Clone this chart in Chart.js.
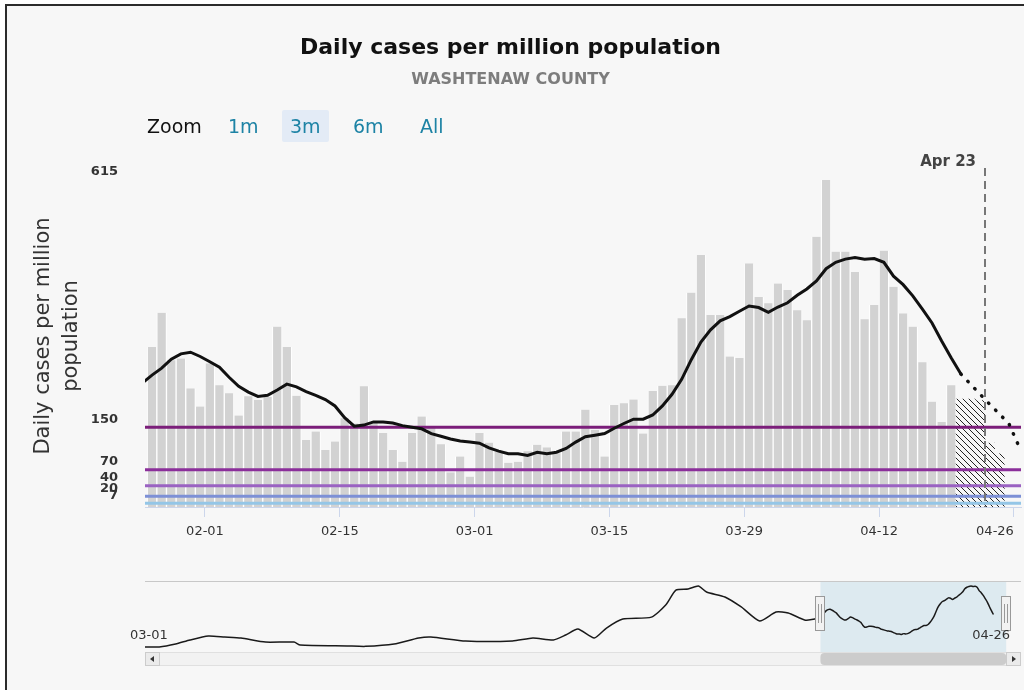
<!DOCTYPE html>
<html>
<head>
<meta charset="utf-8">
<title>Daily cases per million population</title>
<script src="https://cdn.jsdelivr.net/npm/chart.js@4.4.1/dist/chart.umd.min.js"></script>
<style>
  html, body { margin: 0; padding: 0; background: #fff; overflow: hidden; }
  body { width: 1024px; height: 690px; position: relative; font-family: "DejaVu Sans", sans-serif; }
  #frame { position: absolute; left: 5px; top: 4px; width: 1100px; height: 720px; border: 2px solid #2b2b2b; background: #f7f7f7; }
  #mainChart { position: absolute; left: 0; top: 0; }
  #navChart { position: absolute; left: 0; top: 575px; }
  .zoom { position: absolute; top: 110px; height: 32px; line-height: 32px; font-size: 19px; color: #1d83a5; }
  .zoom.label { color: #111; }
  .zoom.active { background: #e3ebf6; padding: 0 8px; border-radius: 2px; }
</style>
</head>
<body>
<div id="frame"></div>
<canvas id="mainChart" width="1046" height="560"></canvas>
<canvas id="navChart" width="1024" height="100"></canvas>
<span class="zoom label" style="left:147px">Zoom</span>
<span class="zoom" style="left:228px">1m</span>
<span class="zoom active" style="left:282px">3m</span>
<span class="zoom" style="left:353px">6m</span>
<span class="zoom" style="left:420px">All</span>

<script>
Chart.defaults.font.family = '"DejaVu Sans", sans-serif';

// days are counted from 02-01; first bar is 01-26, first average point 01-25
const firstDayOffset = -6;
const avgFirstDayOffset = -7;

// daily cases per million, 01-26 .. 04-19
const dailyCases = [
  301, 365, 276, 279, 223, 189, 270, 229, 214, 172, 208, 201, 207, 339,
  301, 209, 126, 142, 107, 123, 167, 157, 227, 160, 139, 107, 85, 139,
  170, 150, 118, 65, 95, 57, 139, 121, 104, 83, 85, 105, 117, 112,
  101, 142, 142, 183, 145, 95, 192, 195, 202, 138, 218, 228, 229, 355,
  403, 474, 361, 361, 283, 280, 458, 395, 383, 420, 408, 370, 351, 508,
  615, 480, 480, 442, 353, 380, 482, 414, 364, 339, 272, 198, 160, 229
];

// incomplete recent days, 04-20 .. 04-24
const incompleteCases = [203, 203, 200, 120, 100];

// 7-day average, 01-25 .. 04-20
const sevenDayAvg = [
  233,
  248, 261, 278, 288, 291, 283, 273, 263, 244, 227, 216, 208, 210, 220,
  231, 226, 217, 210, 202, 190, 168, 152, 154, 160, 160, 158, 153, 150,
  147, 138, 133, 128, 124, 122, 120, 111, 105, 100, 100, 97, 103, 100,
  103, 110, 122, 132, 135, 138, 148, 157, 165, 165, 173, 190, 212, 240,
  277, 310, 333, 350, 358, 368, 378, 375, 366, 376, 384, 398, 410, 425,
  448, 460, 466, 469, 466, 467, 460, 434, 418, 397, 372, 346, 312, 280,
  250
];

// projected average, 04-20 .. 04-26
const projectedAvg = [250, 231, 212, 193, 175, 156, 115];

const thresholds = [150, 70, 40, 20, 7];
const thresholdColors = ['#7b1e7a', '#8b2f9a', '#9a62c2', '#7d90d6', '#94c6e7'];

const yTicks = [7, 20, 40, 70, 150, 615];
const xTickDays = [0, 14, 28, 42, 56, 70, 84];
const xTickLabels = ['02-01', '02-15', '03-01', '03-15', '03-29', '04-12', '04-26'];

const eventDay = 81;
const eventLabel = 'Apr 23';

// navigator: 7-day average since 03-01-2020 (day numbers), before the zoomed window
const navDays = [0, 7, 15, 22, 31, 39, 47, 59, 73, 76, 99, 108, 122, 134, 140, 157, 180, 190, 200,
  206, 212, 220, 226, 234, 248, 255, 260, 266, 271, 275, 284, 292, 301, 309, 315, 323, 328];
const navValues = [0, 0, 23, 54, 85, 77, 69, 38, 38, 15, 8, 5, 23, 69, 77, 46, 46, 69, 54,
  92, 138, 69, 146, 215, 230, 323, 438, 446, 469, 423, 385, 308, 200, 269, 262, 208, 215];
const navLabels = ['03-01', '04-26'];
const mainDayOffset = 337;   // 02-01-2021 counted from 03-01-2020
const navMaxDay = 429;

const xMin = -6.23;
const xMax = 84.74;

const dayX = i => firstDayOffset + i + 0.5;
const avgX = i => avgFirstDayOffset + i + 0.5;

function hatchPattern(ctx) {
    const tile = document.createElement('canvas');
    tile.width = 6;
    tile.height = 6;
    const g = tile.getContext('2d');
    g.strokeStyle = '#222';
    g.lineWidth = 1;
    g.beginPath();
    g.moveTo(0, 0); g.lineTo(6, 6);
    g.moveTo(-1, 5); g.lineTo(1, 7);
    g.moveTo(5, -1); g.lineTo(7, 1);
    g.stroke();
    return ctx.createPattern(tile, 'repeat');
}

const eventLinePlugin = {
    id: 'eventLine',
    afterDatasetsDraw(chart) {
        const { ctx, chartArea, scales } = chart;
        const px = Math.round(scales.x.getPixelForValue(eventDay));
        ctx.save();
        ctx.strokeStyle = '#777';
        ctx.lineWidth = 2;
        ctx.setLineDash([8, 5]);
        ctx.beginPath();
        ctx.moveTo(px, chartArea.top + 3);
        ctx.lineTo(px, chartArea.bottom);
        ctx.stroke();
        ctx.setLineDash([]);
        ctx.fillStyle = '#444';
        ctx.font = 'bold 15px "DejaVu Sans"';
        ctx.textAlign = 'right';
        ctx.textBaseline = 'middle';
        ctx.fillText(eventLabel, px - 9, chartArea.top - 3);
        ctx.restore();
    }
};

const mainCtx = document.getElementById('mainChart').getContext('2d');

const thresholdSets = thresholds.map((t, i) => ({
    type: 'line',
    data: [{ x: xMin, y: t }, { x: xMax, y: t }],
    borderColor: thresholdColors[i],
    borderWidth: 3,
    pointRadius: 0,
    order: 3
}));

window.mainChart = new Chart(mainCtx, {
    type: 'bar',
    data: {
        datasets: [
            {
                data: dailyCases.map((v, i) => ({ x: dayX(i), y: v })),
                backgroundColor: '#d2d2d2',
                borderColor: '#ffffff',
                borderWidth: { left: 1, right: 1, top: 0, bottom: 0 },
                barPercentage: 1,
                categoryPercentage: 1,
                grouped: false,
                order: 5
            },
            {
                data: incompleteCases.map((v, i) => ({ x: dayX(dailyCases.length + i), y: v })),
                backgroundColor: hatchPattern(mainCtx),
                borderWidth: 0,
                barPercentage: 1,
                categoryPercentage: 1,
                grouped: false,
                order: 4
            },
            ...thresholdSets,
            {
                type: 'line',
                data: sevenDayAvg.map((v, i) => ({ x: avgX(i), y: v })),
                borderColor: '#111',
                borderWidth: 3,
                pointRadius: 0,
                order: 1
            },
            {
                type: 'line',
                data: projectedAvg.map((v, i) => ({ x: avgX(sevenDayAvg.length - 1 + i), y: v })),
                borderColor: '#111',
                borderWidth: 3.5,
                borderDash: [0.5, 9.5],
                borderCapStyle: 'round',
                pointRadius: 0,
                order: 1
            }
        ]
    },
    options: {
        responsive: false,
        animation: false,
        layout: { padding: { left: 0, right: 25, top: 0, bottom: 0 } },
        plugins: {
            legend: { display: false },
            tooltip: { enabled: false },
            title: {
                display: true,
                text: 'Daily cases per million population',
                color: '#111',
                font: { size: 22, weight: 'bold', lineHeight: 1.2 },
                padding: { top: 35, bottom: 6 }
            },
            subtitle: {
                display: true,
                text: 'WASHTENAW COUNTY',
                color: '#7d7d7d',
                font: { size: 16, weight: 'bold', lineHeight: 1.2 },
                padding: { top: 3, bottom: 75.4 }
            }
        },
        scales: {
            x: {
                type: 'linear',
                offset: false,
                min: xMin,
                max: xMax,
                afterBuildTicks: scale => {
                    scale.ticks = [{ value: xMin }].concat(xTickDays.map(v => ({ value: v })));
                },
                afterFit: scale => { scale.height = 53; },
                ticks: {
                    autoSkip: false,
                    maxRotation: 0,
                    align: 'inner',
                    padding: 7,
                    color: '#333',
                    font: { size: 13 },
                    callback: v => {
                        const i = xTickDays.indexOf(v);
                        return i >= 0 ? xTickLabels[i] : '';
                    }
                },
                grid: {
                    offset: false,
                    drawOnChartArea: false,
                    drawTicks: true,
                    tickLength: 10,
                    tickColor: c => (c.index === 0 ? 'rgba(0,0,0,0)' : '#ccd6eb')
                },
                border: { color: '#ccd6eb' }
            },
            y: {
                min: 0,
                max: 643,
                afterBuildTicks: scale => {
                    scale.ticks = yTicks.map(v => ({ value: v }));
                },
                afterFit: scale => { scale.width = 145; },
                ticks: {
                    autoSkip: false,
                    padding: 27,
                    labelOffset: -8,
                    color: '#333',
                    font: { size: 13, weight: 'bold' }
                },
                grid: { display: false, drawTicks: false },
                border: { display: false },
                title: {
                    display: true,
                    text: ['Daily cases per million', 'population'],
                    color: '#333',
                    font: { size: 21, lineHeight: 1.333 },
                    padding: { top: 30, bottom: 0 }
                }
            }
        }
    },
    plugins: [eventLinePlugin]
});

// navigator below the main chart
const navData = navDays.map((d, i) => ({ x: d, y: navValues[i] }))
    .concat(sevenDayAvg.map((v, i) => ({ x: mainDayOffset + avgX(i), y: v })));

const navigatorPlugin = {
    id: 'navigator',
    beforeDatasetsDraw(chart) {
        const { ctx, chartArea, scales } = chart;
        const x1 = scales.x.getPixelForValue(mainDayOffset + xMin);
        const x2 = scales.x.getPixelForValue(mainDayOffset + xMax);
        ctx.save();
        ctx.fillStyle = 'rgba(120, 185, 215, 0.2)';
        ctx.fillRect(x1, chartArea.top, x2 - x1, chartArea.bottom - chartArea.top + 2);
        ctx.strokeStyle = '#c8c8c8';
        ctx.lineWidth = 1;
        ctx.beginPath();
        ctx.moveTo(chartArea.left, chartArea.top + 0.5);
        ctx.lineTo(chartArea.right, chartArea.top + 0.5);
        ctx.stroke();
        ctx.restore();
    },
    afterDatasetsDraw(chart) {
        const { ctx, chartArea, scales } = chart;
        const x1 = scales.x.getPixelForValue(mainDayOffset + xMin);
        const x2 = scales.x.getPixelForValue(mainDayOffset + xMax);
        ctx.save();

        // scrollbar
        const sy = chartArea.bottom + 2;
        ctx.fillStyle = '#f2f2f2';
        ctx.strokeStyle = '#e0e0e0';
        ctx.fillRect(chartArea.left, sy, chartArea.right - chartArea.left, 14);
        ctx.strokeRect(chartArea.left + 0.5, sy + 0.5, chartArea.right - chartArea.left - 1, 13);
        ctx.fillStyle = '#cccccc';
        ctx.beginPath();
        ctx.roundRect(x1, sy + 1, x2 - x1, 12, 4);
        ctx.fill();
        [chartArea.left, chartArea.right - 15].forEach((bx, i) => {
            ctx.fillStyle = '#ebebeb';
            ctx.strokeStyle = '#cccccc';
            ctx.fillRect(bx, sy, 15, 14);
            ctx.strokeRect(bx + 0.5, sy + 0.5, 14, 13);
            ctx.fillStyle = '#333';
            ctx.beginPath();
            if (i === 0) {
                ctx.moveTo(bx + 5, sy + 7); ctx.lineTo(bx + 9, sy + 4); ctx.lineTo(bx + 9, sy + 10);
            } else {
                ctx.moveTo(bx + 10, sy + 7); ctx.lineTo(bx + 6, sy + 4); ctx.lineTo(bx + 6, sy + 10);
            }
            ctx.fill();
        });

        // handles
        [x1, x2].forEach(hx => {
            const hy = chartArea.top + 15;
            ctx.fillStyle = '#f2f2f2';
            ctx.strokeStyle = '#999';
            ctx.lineWidth = 1;
            ctx.fillRect(Math.round(hx) - 4.5, hy, 9, 34);
            ctx.strokeRect(Math.round(hx) - 4.5, hy + 0.5, 9, 34);
            ctx.beginPath();
            ctx.moveTo(Math.round(hx) - 1.5, hy + 8); ctx.lineTo(Math.round(hx) - 1.5, hy + 27);
            ctx.moveTo(Math.round(hx) + 1.5, hy + 8); ctx.lineTo(Math.round(hx) + 1.5, hy + 27);
            ctx.stroke();
        });

        // axis labels
        ctx.fillStyle = '#333';
        ctx.font = '13px "DejaVu Sans"';
        ctx.textBaseline = 'middle';
        ctx.textAlign = 'left';
        ctx.fillText(navLabels[0], chartArea.left - 15, chartArea.top + 55);
        ctx.textAlign = 'right';
        ctx.fillText(navLabels[1], chartArea.right - 11, chartArea.top + 55);
        ctx.restore();
    }
};

window.navChart = new Chart(document.getElementById('navChart'), {
    type: 'line',
    data: {
        datasets: [{
            data: navData,
            borderColor: '#1a1a1a',
            borderWidth: 1.5,
            pointRadius: 0,
            tension: 0.2
        }]
    },
    options: {
        responsive: false,
        animation: false,
        layout: { padding: { left: 145, right: 3, top: 6, bottom: 25 } },
        plugins: { legend: { display: false }, tooltip: { enabled: false } },
        scales: {
            x: { type: 'linear', display: false, min: 0, max: navMaxDay },
            y: { display: false, min: -23, max: 508 }
        }
    },
    plugins: [navigatorPlugin]
});
</script>
</body>
</html>
